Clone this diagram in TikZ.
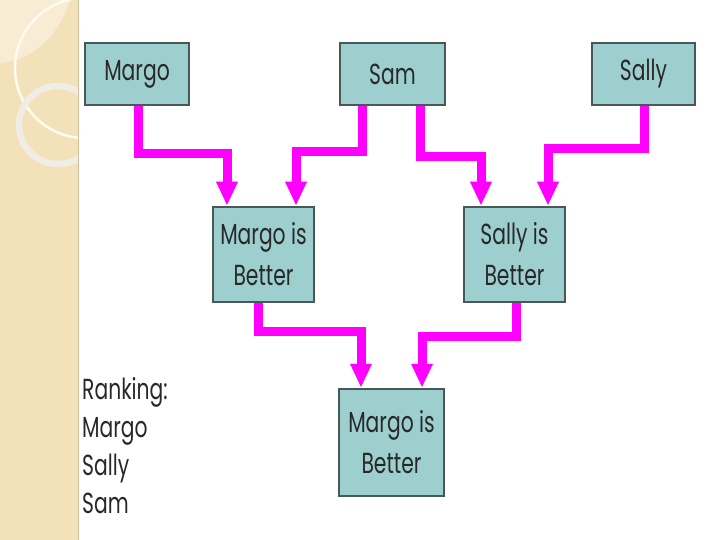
\documentclass[tikz,border=0pt]{standalone}
\usepackage{fontspec}
\setmainfont{Poppins}[FakeStretch=0.70]
\usetikzlibrary{arrows.meta,backgrounds}
\definecolor{boxfill}{RGB}{158,207,207}
\definecolor{boxedge}{RGB}{72,88,88}
\definecolor{pipecol}{RGB}{255,0,255}
\definecolor{stripcol}{RGB}{243,225,185}
\definecolor{leafcol}{RGB}{248,236,212}
\definecolor{ringcol}{RGB}{240,237,229}
\definecolor{arccol}{RGB}{255,251,240}
\definecolor{txtcol}{RGB}{40,40,40}
\begin{document}
\begin{tikzpicture}[x=1pt,y=-1pt,
  box/.style={draw=boxedge, line width=2.5pt, fill=boxfill, inner sep=0pt,
    text=txtcol, font=\fontsize{29}{41}\selectfont, align=center},
  pipe/.style={draw=pipecol, line width=9pt, line join=miter,
    -{Triangle[width=20pt,length=24pt]}}]
\useasboundingbox (0,0) rectangle (720,540);
\begin{pgfonlayer}{background}
\fill[white] (0,0) rectangle (720,540);
\end{pgfonlayer}
% decorative strip
\begin{scope}
\clip (0,0) rectangle (78,540);
\fill[stripcol] (0,0) rectangle (78,540);
\fill[leafcol] (0,0) -- (70,0) .. controls (58,38) and (32,60) .. (0,63) -- cycle;
\draw[arccol, line width=2.5pt] (85,68) circle[radius=70];
\draw[ringcol, line width=6.5pt] (58,125) circle[radius=39];
\end{scope}
\draw[stripcol!85!black, line width=0.6pt] (78,0) -- (78,540);
% boxes
\node[box, minimum width=104pt, minimum height=62pt] (margo) at (137,74) {Margo};
\node[box, minimum width=105pt, minimum height=62pt] (sam) at (392.5,74) {Sam};
\node[box, minimum width=103pt, minimum height=62pt] (sally) at (643.5,74) {Sally};
\node[box, minimum width=101pt, minimum height=95pt] (mib) at (263.5,254.5) {Margo is\\Better};
\node[box, minimum width=101pt, minimum height=95pt] (sib) at (514.5,254.5) {Sally is\\Better};
\node[box, minimum width=105pt, minimum height=107pt] (fin) at (391.5,442.5) {Margo is\\Better};
% ranking
\node[anchor=north west, align=left, inner sep=0pt, text=txtcol,
  font=\fontsize{29}{38}\selectfont] (rank) at (82,377) {Ranking:\\Margo\\Sally\\Sam};
% pipes
\begin{pgfonlayer}{background}
\draw[pipe] ([xshift=1pt]margo.south) -- ++(0,47) -| ([xshift=-36.5pt]mib.north);
\draw[pipe] ([xshift=-30.5pt]sam.south) -- ++(0,45) -| ([xshift=32.5pt]mib.north);
\draw[pipe] ([xshift=27.5pt]sam.south) -- ++(0,50) -| ([xshift=-33.5pt]sib.north);
\draw[pipe] ([xshift=0.5pt]sally.south) -- ++(0,42) -| ([xshift=33.5pt]sib.north);
\draw[pipe] ([xshift=-5.5pt]mib.south) -- ++(0,28) -| ([xshift=-30.5pt]fin.north);
\draw[pipe] ([xshift=1.5pt]sib.south) -- ++(0,33) -| ([xshift=30.5pt]fin.north);
\end{pgfonlayer}
\end{tikzpicture}
\end{document}
